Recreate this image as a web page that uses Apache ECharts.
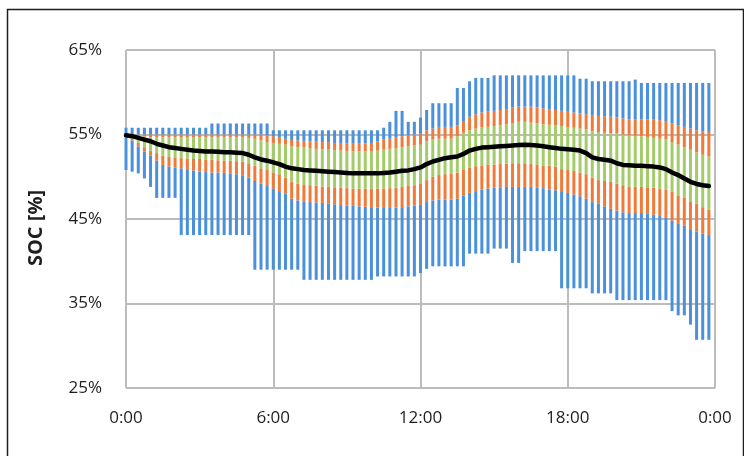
<!DOCTYPE html>
<html>
<head>
<meta charset="utf-8">
<script src="https://cdn.jsdelivr.net/npm/echarts@6/dist/echarts.min.js"></script>
<style>
html,body{margin:0;padding:0;background:#fff;}
#chart{width:744px;height:456px;}
</style>
</head>
<body>
<div id="chart"></div>
<script>
// ---- data (SOC %, 96 slots of 15 minutes) ----
var tickLabels = ['0:00', '6:00', '12:00', '18:00', '0:00'];
var yTitle = 'SOC [%]';

var blueMax = [
  55.8,55.8,55.8,55.8,55.8,55.8,55.8,55.8,55.8,55.8,55.8,55.8,55.8,55.8,
  56.3,56.3,56.3,56.3,56.3,56.3,56.3,56.3,56.3,56.3,
  55.5,55.5,55.5,55.5,55.5,55.5,55.5,55.5,55.5,55.5,55.5,55.5,55.5,55.5,55.5,55.5,55.5,55.5,
  55.8,56.5,57.8,57.8,56.5,56.5,57.0,57.9,
  58.7,58.7,58.7,58.7,60.5,60.5,61.3,61.7,61.7,61.7,
  62.0,62.0,62.0,62.0,62.0,62.0,62.0,62.0,62.0,62.0,62.0,62.0,62.0,62.0,
  61.6,61.6,61.3,61.3,61.3,61.3,61.3,61.3,61.3,61.5,
  61.1,61.1,61.1,61.1,61.1,61.1,61.1,61.1,61.1,61.1,61.1,61.1
];
var blueMin = [
  50.8,50.6,50.4,49.8,48.8,47.5,47.5,47.5,47.5,
  43.1,43.1,43.1,43.1,43.1,43.1,43.1,43.1,43.1,43.1,43.1,43.1,
  39.0,39.0,39.0,39.0,39.0,39.0,39.0,39.0,
  37.8,37.8,37.8,37.8,37.8,37.8,37.8,37.8,37.8,37.8,37.8,37.8,
  38.2,38.2,38.2,38.2,38.2,38.2,38.2,38.6,39.1,
  39.4,39.4,39.4,39.4,39.4,39.4,40.9,40.9,40.9,40.9,
  41.5,41.5,41.5,39.8,39.8,41.2,41.2,41.2,41.2,41.2,41.2,
  36.8,36.8,36.8,36.8,36.8,36.2,36.2,36.2,36.2,
  35.4,35.4,35.4,35.4,35.4,35.4,35.4,35.4,35.4,
  34.1,33.6,33.6,32.5,30.7,30.7,30.7
];
var p90 = [
  55.0,55.0,55.0,55.0,55.0,55.0,55.0,55.0,55.0,55.0,55.0,55.0,55.0,55.0,55.0,55.0,55.0,55.0,55.0,55.0,55.0,55.0,55.0,
  54.9,54.8,54.7,54.5,54.35,54.3,54.25,54.2,54.15,54.1,54.1,54.0,54.0,53.95,53.9,53.9,53.95,54.0,
  54.2,54.4,54.5,54.7,54.8,54.9,55.0,55.1,55.5,55.7,55.9,55.9,55.9,56.1,56.6,57.1,57.4,57.6,57.7,57.8,
  57.9,58.0,58.2,58.3,58.3,58.3,58.2,58.1,58.0,57.9,57.8,57.7,57.6,57.5,57.4,57.3,57.2,57.15,57.1,57.0,
  56.9,56.8,56.8,56.8,56.8,56.75,56.7,56.6,56.3,56.1,55.9,55.7,55.5,55.4,55.3
];
var p75 = [
  54.95,54.85,54.8,54.75,54.7,54.7,54.7,54.7,54.7,54.7,54.7,54.7,54.7,54.7,54.7,54.7,54.7,54.7,54.7,54.7,
  54.6,54.5,54.3,54.1,54.0,53.9,53.8,53.6,53.5,53.45,53.4,53.3,53.25,53.2,53.15,53.1,53.05,53.0,53.0,53.0,
  53.05,53.1,53.2,53.3,53.4,53.5,53.6,53.7,53.8,54.2,54.4,54.5,54.5,54.5,54.8,55.2,55.5,55.7,55.85,55.9,
  56.0,56.1,56.2,56.35,56.5,56.5,56.4,56.3,56.2,56.15,56.1,56.0,55.9,55.8,55.7,55.6,55.4,55.3,55.2,55.15,
  55.1,55.0,54.9,54.85,54.8,54.7,54.6,54.5,54.4,54.1,53.8,53.5,53.2,52.9,52.6,52.4
];
var median = [
  54.9,54.8,54.6,54.4,54.2,53.9,53.7,53.5,53.4,53.3,53.2,53.1,53.05,53.0,53.0,52.95,52.9,52.9,52.85,52.8,
  52.6,52.3,52.05,51.9,51.7,51.5,51.2,51.0,50.9,50.8,50.75,50.7,50.65,50.6,50.55,50.5,50.45,50.4,50.4,50.4,
  50.4,50.4,50.45,50.5,50.6,50.7,50.75,50.9,51.1,51.5,51.8,52.0,52.2,52.3,52.4,52.7,53.1,53.3,53.45,53.5,
  53.55,53.6,53.65,53.7,53.75,53.8,53.75,53.7,53.6,53.5,53.4,53.3,53.25,53.2,53.1,52.8,52.3,52.1,52.0,51.9,
  51.6,51.4,51.35,51.3,51.3,51.25,51.2,51.1,50.9,50.5,50.2,49.8,49.4,49.15,49.0,48.9
];
var p25 = [
  54.85,54.5,54.0,53.5,53.1,52.8,52.5,52.35,52.3,52.2,52.15,52.1,52.1,52.05,52.0,51.95,51.9,51.9,51.85,51.8,
  51.6,51.3,51.0,50.8,50.5,50.3,49.9,49.4,49.2,49.1,49.0,48.95,48.85,48.8,48.75,48.7,48.65,48.6,48.6,48.6,
  48.6,48.6,48.6,48.65,48.7,48.8,48.9,49.0,49.2,49.6,50.0,50.2,50.3,50.4,50.5,50.8,51.1,51.25,51.35,51.4,
  51.45,51.5,51.55,51.6,51.6,51.6,51.5,51.4,51.35,51.3,51.2,50.9,50.8,50.7,50.5,50.3,49.9,49.6,49.5,49.4,
  49.2,49.0,48.85,48.8,48.8,48.75,48.7,48.6,48.5,48.2,47.8,47.5,47.1,46.8,46.4,46.1
];
var p10 = [
  54.8,54.3,53.6,53.0,52.5,51.9,51.4,51.2,51.1,51.0,50.9,50.75,50.6,50.55,50.5,50.5,50.45,50.4,50.3,50.1,
  49.9,49.5,49.2,48.9,48.6,48.3,48.0,47.4,47.2,47.1,47.0,46.95,46.9,46.85,46.75,46.65,46.6,46.55,46.5,46.45,
  46.4,46.35,46.3,46.3,46.35,46.4,46.5,46.6,46.7,47.0,47.2,47.3,47.3,47.3,47.4,47.8,48.1,48.3,48.5,48.6,
  48.7,48.75,48.8,48.8,48.8,48.8,48.8,48.75,48.65,48.5,48.4,48.3,48.1,47.9,47.7,47.4,47.0,46.8,46.5,46.2,
  46.0,45.8,45.7,45.7,45.7,45.6,45.5,45.35,45.2,44.8,44.5,44.2,43.8,43.5,43.3,43.1
];

// 15-minute slot names, 0:00 .. 24:00 (97 positions, bars on the first 96)
var slots = [];
for (var h = 0; h <= 24; h++) {
  for (var q = 0; q < 4; q++) {
    if (h === 24 && q > 0) break;
    slots.push(h + ':' + (q * 15 < 10 ? '0' : '') + (q * 15));
  }
}

function diff(a, b) {
  return a.map(function (v, i) { return +(v - b[i]).toFixed(3); });
}

var FONT = '"Open Sans", "Noto Sans", sans-serif';
var BLUE = '#4a90da';
var ORANGE = '#f07a3a';
var GREEN = '#a3cb6a';
var BW = 3;

function seg(name, data, color) {
  return {
    name: name, type: 'bar', stack: 'soc', data: data, barWidth: BW,
    itemStyle: { color: color }, silent: true, z: 2
  };
}

var chart = echarts.init(document.getElementById('chart'), null, { renderer: 'canvas' });
chart.setOption({
  animation: false,
  backgroundColor: '#ffffff',
  graphic: [{
    type: 'rect', left: 5, top: 7, silent: true,
    shape: { width: 736, height: 470 },
    style: { fill: 'none', stroke: '#1e1e1e', lineWidth: 1.5 }
  }, {
    type: 'text', x: 36, y: 228, rotation: Math.PI / 2, silent: true,
    style: {
      text: yTitle, fill: '#1e1e1e', font: 'bold 20px "Open Sans", "Noto Sans", sans-serif',
      textAlign: 'center', textVerticalAlign: 'middle'
    }
  }],
  grid: { left: 126, right: 29, top: 50, bottom: 68, containLabel: false },
  xAxis: {
    type: 'category',
    data: slots,
    boundaryGap: false,
    axisLine: { show: false },
    axisTick: { show: false, interval: 23 },
    axisLabel: {
      interval: 23, margin: 22, color: '#1e1e1e', fontFamily: FONT, fontSize: 17,
      formatter: function (v, idx) { return tickLabels[Math.round(idx / 24)]; }
    },
    splitLine: { show: true, interval: 23, lineStyle: { color: '#bcbcbc', width: 2 } }
  },
  yAxis: {
    type: 'value', min: 25, max: 65, interval: 10,
    axisLine: { show: false },
    axisTick: { show: false },
    axisLabel: { formatter: '{value}%', margin: 24, color: '#1e1e1e', fontFamily: FONT, fontSize: 17 },
    splitLine: { show: true, lineStyle: { color: '#bcbcbc', width: 2 } }
  },
  series: [
    { name: 'base', type: 'bar', stack: 'soc', data: blueMin, barWidth: BW,
      itemStyle: { color: 'rgba(0,0,0,0)' }, silent: true },
    seg('min-p10', diff(p10, blueMin), BLUE),
    seg('p10-p25', diff(p25, p10), ORANGE),
    seg('p25-p75', diff(p75, p25), GREEN),
    seg('p75-p90', diff(p90, p75), ORANGE),
    seg('p90-max', diff(blueMax, p90), BLUE),
    { name: 'median', type: 'line', data: median, symbol: 'none', z: 5,
      lineStyle: { color: '#000', width: 4.5, join: 'round', cap: 'round' } }
  ]
});
</script>
</body>
</html>
